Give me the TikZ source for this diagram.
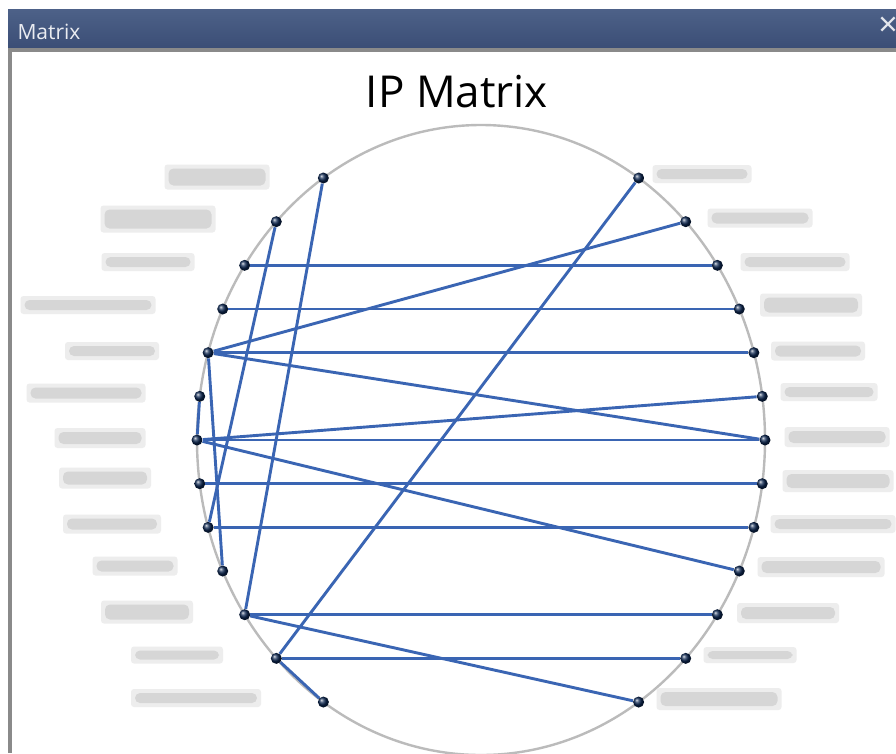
\documentclass[tikz,border=0pt]{standalone}
\usepackage{fontspec}
\setmainfont{Open Sans}
\usepackage{tikz}
\usetikzlibrary{calc}
\usepackage{xcolor}
\definecolor{bar-top}{HTML}{4D6188}
\definecolor{bar-bottom}{HTML}{3B4E76}
\definecolor{frame-grey}{HTML}{8A8A8A}
\definecolor{rim-grey}{HTML}{BBBBBB}
\definecolor{link-blue}{HTML}{3A65B3}
\definecolor{dot-navy}{HTML}{0C2650}

\tikzset{
  dot/.style={circle, inner sep=0pt, minimum size=11pt, ball color=dot-navy},
  link/.style={draw=link-blue, line width=2.9pt},
  blob/.style={fill=black!7, rounded corners=3pt, inner sep=0pt,
    path picture={\fill[black!16, rounded corners=5pt]
      ([shift={(4pt,-4pt)}]path picture bounding box.north west) rectangle
      ([shift={(-4pt,4pt)}]path picture bounding box.south east);}},
}

\begin{document}
\begin{tikzpicture}[x=1pt, y=-1pt]
        \useasboundingbox (0,0) rectangle (896,753);
        \fill[white] (0,0) rectangle (896,753);
        % window chrome
        \shade[top color=bar-top, bottom color=bar-bottom] (8,9) rectangle (896,48);
        \fill[frame-grey] (8,48) rectangle (896,52);
        \fill[frame-grey] (8,48) rectangle (12,753);
        \node[anchor=base west, text=white!88!bar-top,
              font=\fontsize{21}{23}\selectfont] (win-title) at (14,39) {Matrix};
        \node[anchor=center, text=white!85!bar-top,
              font=\fontsize{34}{36}\selectfont] (win-close) at (888,27) {×};
        \node[anchor=base, font=\fontsize{44}{50}\selectfont] (chart-title) at (457,107) {IP Matrix};

        % ring of hosts
        \draw[rim-grey, line width=2.4pt] (481,440) ellipse [x radius=284, y radius=315];
        \foreach \k in {1,...,13}{
          \pgfmathsetmacro\py{178+43.67*(\k-1)}
          \pgfmathsetmacro\dx{284*sqrt(1-((\py-440)/315)^2)}
          \node[dot] (l\k) at (481-\dx,\py) {};
          \node[dot] (r\k) at (481+\dx,\py) {};
        }

        % blurred address labels
        \foreach \cx/\cy/\w/\h [count=\i] in {217/177/105/25, 158/219/115/27,
            148/262/93/18, 88/305/135/18, 112/351/94/18, 86/393/119/19,
            100/438/91/20, 105/478/92/21, 112/524/98/19, 135/566/85/19,
            147/612/92/23, 177/655/92/17, 196/698/130/18}
          \node[blob, minimum width=\w pt, minimum height=\h pt] (ltag\i) at (\cx,\cy) {};
        \foreach \cx/\cy/\w/\h [count=\i] in {702/174/99/18, 760/218/105/19,
            795/262/109/18, 811/305/102/23, 818/351/94/19, 829/392/97/18,
            837/437/105/20, 838/481/111/22, 833/524/125/18, 821/567/127/20,
            788/613/102/20, 750/655/93/16, 719/699/125/22}
          \node[blob, minimum width=\w pt, minimum height=\h pt] (rtag\i) at (\cx,\cy) {};

        % connections
        \foreach \a/\b in {l1/l11, l2/l9, l3/r3, l4/r4, l5/r2, l5/r5, l5/r7,
            l5/l10, l6/l7, l7/r6, l7/r7, l7/r10, l8/r8, l9/r9, l11/r11,
            l11/r13, l12/r12, l12/r1, l12/l13}
          \draw[link] (\a) -- (\b);
      \end{tikzpicture}
\end{document}
